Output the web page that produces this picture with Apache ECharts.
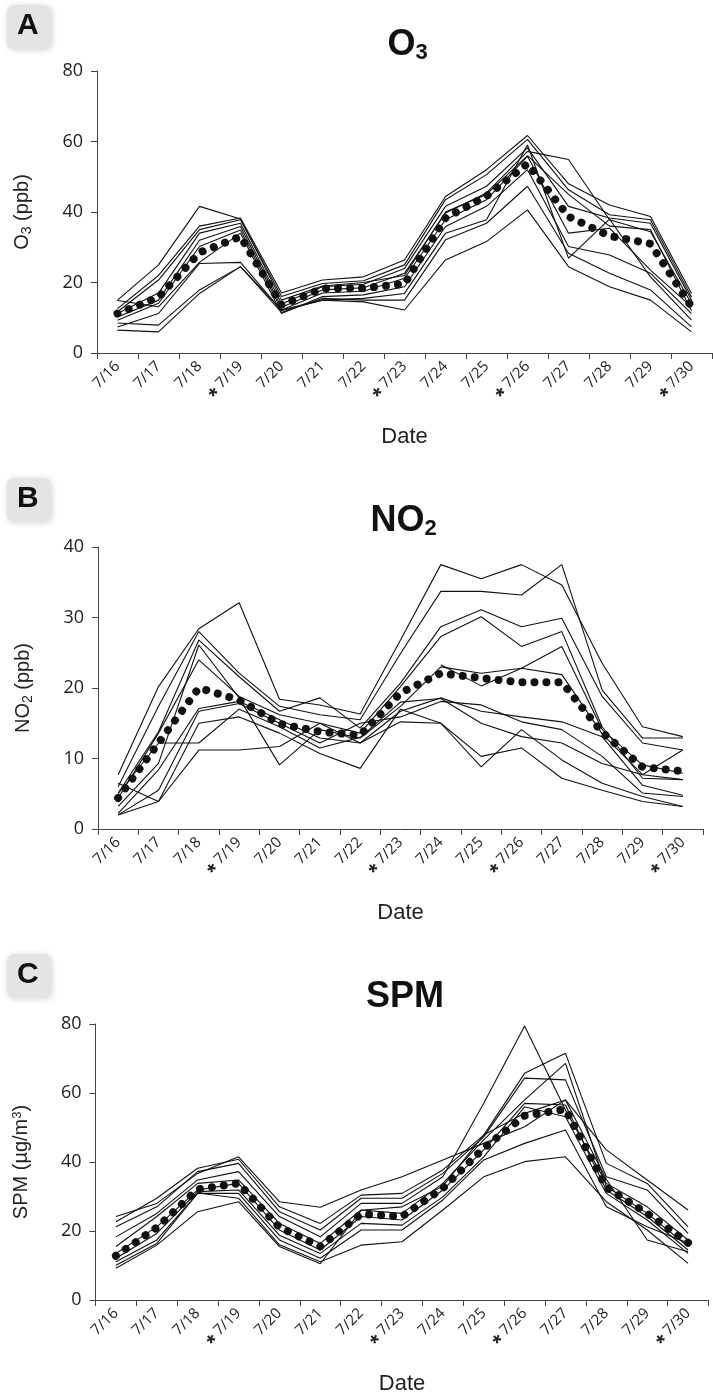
<!DOCTYPE html>
<html><head><meta charset="utf-8">
<script src="https://cdn.jsdelivr.net/npm/echarts@6/dist/echarts.min.js"></script>
<style>html,body{margin:0;padding:0;background:#fff}#c{width:713px;height:1397px}</style>
</head><body><div id="c"></div>
<script>
// ---- data ----
const dates = ['7/16','7/17','7/18','7/19','7/20','7/21','7/22','7/23','7/24','7/25','7/26','7/27','7/28','7/29','7/30'];
const starredDates = ['7/19','7/23','7/26','7/30'];
const o3Ticks = [0, 80, 20];
const no2Ticks = [0, 40, 10];
const spmTicks = [0, 80, 20];

const o3Mean = [11.2, 15.8, 28.5, 33.0, 13.6, 18.3, 18.4, 19.6, 38.3, 44.5, 53.7, 38.7, 33.2, 31.0, 13.1];
const o3Sites = [
  [15.0, 25.0, 41.6, 38.0, 15.0, 19.0, 20.0, 22.0, 40.0, 45.0, 56.0, 45.0, 36.0, 35.0, 12.0],
  [12.6, 22.0, 36.0, 38.3, 17.0, 20.7, 21.6, 26.4, 44.4, 52.0, 61.7, 48.0, 42.0, 38.7, 16.9],
  [11.7, 20.7, 35.0, 37.8, 16.0, 19.7, 20.5, 25.0, 43.5, 50.6, 60.6, 46.3, 39.2, 37.8, 15.9],
  [11.2, 17.0, 34.0, 36.8, 14.0, 18.8, 19.5, 24.0, 41.6, 47.3, 58.2, 41.6, 38.3, 36.8, 15.0],
  [10.2, 15.0, 32.0, 35.9, 13.0, 17.9, 18.5, 22.6, 39.7, 45.4, 57.2, 54.9, 37.8, 34.4, 14.0],
  [9.3, 14.1, 30.2, 34.9, 12.2, 17.0, 17.5, 21.2, 37.8, 43.5, 55.8, 34.0, 35.4, 23.5, 13.1],
  [14.9, 13.1, 25.7, 34.0, 11.2, 16.0, 16.5, 18.8, 35.9, 41.6, 52.0, 30.2, 27.8, 22.6, 11.2],
  [7.4, 11.2, 25.4, 25.7, 12.0, 15.0, 15.5, 16.9, 34.0, 37.8, 59.0, 26.9, 38.0, 21.6, 9.3],
  [8.5, 7.9, 17.9, 24.5, 11.5, 15.5, 15.0, 15.0, 32.1, 36.8, 47.3, 28.3, 22.6, 17.9, 7.4],
  [6.5, 6.0, 16.9, 24.5, 12.2, 15.0, 14.5, 12.2, 26.4, 31.6, 40.6, 24.5, 18.8, 15.0, 6.0]
];

const no2Mean = [4.4, 12.2, 20.0, 18.3, 14.9, 13.8, 13.3, 19.3, 22.1, 21.4, 20.8, 20.8, 13.7, 8.8, 8.2];
const no2Sites = [
  [7.7, 20.2, 28.4, 32.1, 18.4, 17.6, 16.3, 26.8, 37.5, 35.5, 37.5, 34.6, 23.5, 14.5, 13.1],
  [6.0, 17.4, 28.0, 22.1, 17.4, 16.2, 15.5, 24.9, 33.7, 33.7, 33.2, 37.5, 19.7, 12.9, 12.9],
  [5.1, 13.8, 26.8, 21.6, 16.7, 18.6, 14.3, 20.7, 28.7, 31.1, 28.7, 29.9, 18.8, 12.2, 11.2],
  [4.4, 13.6, 24.0, 18.8, 16.2, 15.0, 13.6, 20.2, 27.3, 30.1, 25.9, 28.0, 14.5, 7.2, 7.0],
  [3.2, 9.3, 26.1, 18.6, 9.1, 14.1, 12.9, 17.4, 23.0, 22.1, 22.8, 25.9, 14.1, 9.1, 7.9],
  [2.2, 8.4, 17.1, 18.1, 15.5, 12.9, 12.2, 16.7, 18.6, 16.7, 15.9, 15.2, 13.1, 6.2, 4.8],
  [2.0, 5.5, 16.7, 17.8, 15.0, 12.2, 15.0, 15.9, 18.1, 17.6, 15.2, 14.1, 10.3, 5.1, 4.6],
  [6.5, 3.9, 15.0, 15.9, 13.6, 10.7, 8.6, 17.0, 15.0, 8.8, 14.1, 9.8, 6.5, 4.6, 3.2],
  [2.0, 3.9, 11.2, 11.2, 11.7, 15.0, 12.2, 15.2, 15.0, 10.3, 11.5, 7.2, 5.5, 3.9, 3.2],
  [5.0, 12.2, 12.2, 17.0, 14.5, 11.5, 13.0, 18.0, 18.5, 15.0, 13.1, 12.2, 9.3, 7.7, 11.2],
  [null, null, null, null, null, null, null, null, 23.3, 20.3, 22.8, 21.9, 13.5, 7.7, 7.0]
];

const spmMean = [12.8, 21.0, 32.1, 33.8, 21.1, 15.5, 24.9, 24.2, 32.4, 44.0, 53.4, 55.3, 32.6, 25.1, 16.6];
const spmSites = [
  [24.2, 28.0, 36.7, 41.5, 28.5, 26.9, 31.9, 35.7, 40.6, 45.4, 50.2, 58.0, 43.5, 34.8, 26.1],
  [22.7, 29.5, 38.2, 40.8, 27.0, 22.2, 30.4, 30.9, 37.7, 47.8, 65.7, 71.5, 39.6, 33.8, 21.2],
  [21.2, 27.0, 37.2, 39.6, 25.6, 20.3, 29.5, 29.5, 36.7, 47.3, 64.3, 63.8, 35.7, 31.9, 19.3],
  [18.3, 25.1, 34.8, 37.2, 24.2, 18.3, 28.0, 28.0, 35.7, 57.0, 79.4, 55.1, 33.8, 27.0, 17.4],
  [15.5, 24.2, 33.8, 34.8, 22.2, 16.4, 26.1, 25.1, 33.8, 46.4, 58.0, 68.6, 32.9, 25.1, 15.5],
  [13.5, 21.2, 31.9, 33.8, 20.3, 14.5, 24.2, 23.2, 31.9, 43.5, 57.0, 56.5, 31.9, 24.2, 14.5],
  [12.1, 19.3, 31.4, 31.9, 18.8, 13.5, 22.2, 21.7, 29.9, 41.5, 56.0, 53.1, 30.9, 23.2, 13.5],
  [11.1, 17.4, 30.9, 30.9, 17.4, 12.1, 20.3, 20.3, 29.0, 40.6, 45.4, 49.3, 27.0, 21.2, 16.5],
  [10.1, 16.4, 31.0, 29.5, 16.0, 11.1, 15.9, 16.9, 26.1, 35.7, 40.1, 41.5, 28.5, 20.3, 10.6],
  [9.2, 15.9, 25.6, 28.5, 15.5, 10.5, 26.0, 27.0, 33.0, 47.8, 54.1, 58.0, 35.0, 17.4, 14.0]
];

// ---- chart ----
const panels = [
  {grid:{left:97, top:71, width:615, height:282}, ticks:o3Ticks, mean:o3Mean, sites:o3Sites,
   title:'O{sub|3}', yName:'O{s|3} (ppb)', letter:'A', boxTop:5},
  {grid:{left:98, top:547, width:605, height:282}, ticks:no2Ticks, mean:no2Mean, sites:no2Sites,
   title:'NO{sub|2}', yName:'NO{s|2} (ppb)', letter:'B', boxTop:478},
  {grid:{left:95.5, top:1024, width:613, height:276}, ticks:spmTicks, mean:spmMean, sites:spmSites,
   title:'SPM', yName:'SPM (µg/m{p|3})', letter:'C', boxTop:954}
];

const axisColor = '#444';
const grids = [], xAxes = [], yAxes = [], series = [], titles = [], graphics = [];
panels.forEach((p, i) => {
  grids.push(p.grid);
  const cx = p.grid.left + p.grid.width / 2 - 2;
  xAxes.push({
    type:'category', gridIndex:i, data:dates, boundaryGap:true,
    name:'Date', nameLocation:'middle', nameGap:73,
    nameTextStyle:{fontFamily:'Liberation Sans', fontSize:22, color:'#222'},
    axisLine:{lineStyle:{color:axisColor, width:1}},
    axisTick:{show:true, length:6, lineStyle:{color:axisColor}},
    axisLabel:{
      rotate:45, margin:11, fontFamily:'Open Sans', fontSize:15, color:'#222', interval:0,
      formatter: v => starredDates.includes(v) ? '{st|*} ' + v : v,
      rich:{st:{fontSize:22, fontWeight:'bold', fontFamily:'Liberation Sans', color:'#222', padding:[10,0,0,0]}}
    },
    splitLine:{show:false}
  });
  yAxes.push({
    type:'value', gridIndex:i, min:p.ticks[0], max:p.ticks[1], interval:p.ticks[2],
    name:p.yName, nameLocation:'middle', nameGap:63, nameRotate:90,
    nameTextStyle:{fontFamily:'Liberation Sans', fontSize:20, color:'#222',
      rich:{s:{fontFamily:'Liberation Sans', fontSize:14, color:'#222', padding:[9,0,0,0]},
            p:{fontFamily:'Liberation Sans', fontSize:13, color:'#222', padding:[0,0,9,0]}}},
    axisLine:{show:true, lineStyle:{color:axisColor, width:1}},
    axisTick:{show:true, length:6, lineStyle:{color:axisColor}},
    axisLabel:{margin:14, fontFamily:'Open Sans', fontSize:18, color:'#222'},
    splitLine:{show:false}
  });
  p.sites.forEach(s => series.push({
    type:'line', xAxisIndex:i, yAxisIndex:i, data:s, symbol:'none', silent:true,
    connectNulls:false, lineStyle:{color:'#111', width:1.1}, z:2
  }));
  series.push({
    type:'line', xAxisIndex:i, yAxisIndex:i, data:p.mean, symbol:'none', silent:true,
    lineStyle:{color:'#111', width:8, type:[0.01, 12], cap:'round'}, z:3
  });
  titles.push({
    text:p.title, left:cx, top:p.grid.top - 50, textAlign:'center',
    textStyle:{fontFamily:'Liberation Sans', fontWeight:'bold', fontSize:36, color:'#111',
      rich:{sub:{fontFamily:'Liberation Sans', fontWeight:'bold', fontSize:22, color:'#111', padding:[16,0,0,0]}}}
  });
  const by = p.boxTop;
  graphics.push({
    type:'rect', left:7, top:by, shape:{width:44, height:44, r:7},
    style:{fill:'#e4e4e4', shadowBlur:6, shadowColor:'rgba(0,0,0,0.18)', shadowOffsetX:1, shadowOffsetY:1}
  });
  graphics.push({
    type:'text', left:17, top:by + 6,
    style:{text:p.letter, font:'bold 30px "Liberation Sans"', fill:'#111',
      shadowBlur:2, shadowColor:'rgba(0,0,0,0.35)', shadowOffsetX:1, shadowOffsetY:1}
  });
});

const chart = echarts.init(document.getElementById('c'), null, {renderer:'canvas'});
chart.setOption({
  animation:false, backgroundColor:'#fff',
  title:titles, grid:grids, xAxis:xAxes, yAxis:yAxes, series:series, graphic:graphics
});
</script></body></html>
